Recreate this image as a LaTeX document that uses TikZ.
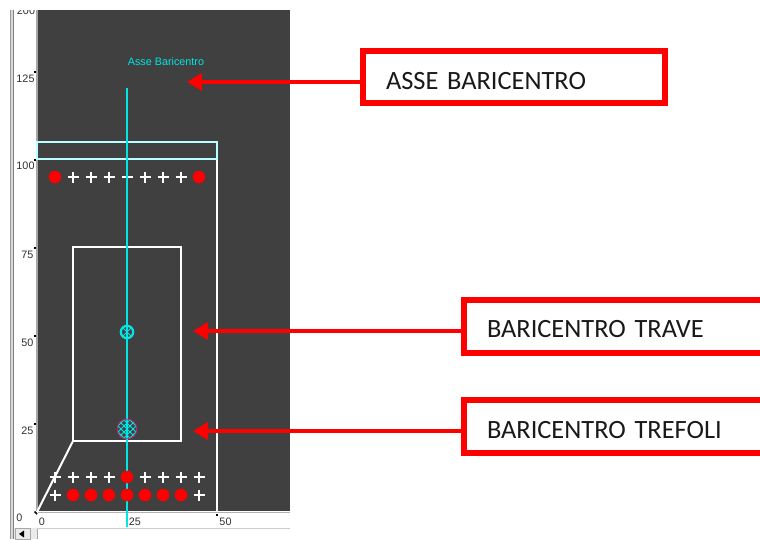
\documentclass[tikz,border=0pt]{standalone}
\usepackage{fontspec}
\setmainfont[WordSpace=0.75]{Carlito}
\newfontfamily\uifont{Liberation Sans}
\usetikzlibrary{arrows.meta,calc}
\definecolor{panel}{HTML}{404040}
\definecolor{axiscyan}{HTML}{00E5E5}
\definecolor{flange}{HTML}{B8FFFF}
\definecolor{axtext}{HTML}{303030}
\tikzset{
  x=1pt,y=-1pt,
  callout/.style={draw=red,line width=6pt,fill=white,inner sep=0pt,anchor=north west,text depth=2pt,align=left,font=\fontsize{26.4}{28}\selectfont,text=black!90},
  pointer/.style={draw=red,line width=4.4pt,-{Triangle[length=15pt,width=17pt,fill=red]}},
  beam/.style={draw=white,line width=2pt},
  bar/.style={circle,fill=red,minimum size=12.5pt,inner sep=0pt},
  duct/.style={white,line width=1.8pt},
  axlabel/.style={font=\uifont\fontsize{10.8}{12}\selectfont,text=axtext,inner sep=0pt},
  tick/.style={fill=black,inner sep=0pt,minimum size=2pt}
}
\newcommand{\ductmark}[2]{\draw[duct] (#1-5.5,#2) -- (#1+5.5,#2) (#1,#2-5.5) -- (#1,#2+5.5);}
\begin{document}
\begin{tikzpicture}
\useasboundingbox (0,0) rectangle (760,539);
\clip (0,0) rectangle (760,539);
\fill[white] (0,0) rectangle (760,539);
% window chrome
\fill[black!15] (9.5,10) rectangle (13.5,539);
\fill[black!40] (9.5,10) rectangle (11,539);
\fill[black!50] (12.8,10) rectangle (13.6,539);
\fill[panel] (37.5,10) rectangle (290,511);
\fill[black!35] (36.3,10) rectangle (37.5,511);
\draw[black!30,line width=1pt] (37.5,512) -- (290,512);
% axis labels
\begin{scope}
\clip (14,10) rectangle (36,30);
\node[axlabel] (l200) at (26,10.5) {200};
\end{scope}
\node[axlabel] (l125) at (25.5,79) {125};
\node[axlabel] (l100) at (25.5,166) {100};
\node[axlabel] (l75) at (27.5,255) {75};
\node[axlabel] (l50) at (27.5,343) {50};
\node[axlabel] (l25) at (27.5,431) {25};
\node[axlabel] (l0) at (19.5,518) {0};
\node[axlabel] (x0) at (42,522) {0};
\node[axlabel] (x25) at (135,522) {25};
\node[axlabel] (x50) at (225.5,522) {50};
\foreach \n/\y in {a/72,b/160,c/248,d/336,e/424}{\node[tick] (t\n) at (35,\y) {};}
\draw[black,line width=1.5pt] (34.5,511.5) -- (37,514);
\node[tick] (tx50) at (217,514.5) {};
% beam section
\draw[beam] (217,159) -- (217,511);
\draw[beam] (37.5,511) -- (73,441);
\draw[beam] (73,247) rectangle (181,441);
\draw[flange,line width=2pt] (37,141.5) rectangle (217,158.5);
% strands
\foreach \x in {73,91,...,181}{\ductmark{\x}{177}}
\foreach \x in {55,73,91,109,145,163,181,199}{\ductmark{\x}{477}}
\foreach \x in {55,199}{\ductmark{\x}{495}}
% axis
\draw[axiscyan,line width=2.4pt] (127,88) -- (127,527);
% strand bars
\foreach \n/\x/\y in {p1/55/177,p2/199/177,p3/127/477,q1/73/495,q2/91/495,q3/109/495,q4/127/495,q5/145/495,q6/163/495,q7/181/495}{\node[bar] (\n) at (\x,\y) {};}
% centroids
\coordinate (gt) at (127,332);
\coordinate (gs) at (127,429);
\begin{scope}
\clip (gs) circle (9.5);
\foreach \d in {-12,-6,0,6,12}{
  \draw[axiscyan,line width=1pt] ($(gs)+(\d-10,-10)$) -- ($(gs)+(\d+10,10)$);
  \draw[axiscyan,line width=1pt] ($(gs)+(\d-10,10)$) -- ($(gs)+(\d+10,-10)$);
}
\end{scope}
\draw[magenta!80!black,line width=.8pt] (gs) circle (9.8);
\draw[axiscyan,line width=2.2pt] (gt) circle (6.2);
\draw[axiscyan,line width=.8pt] ($(gt)+(-4,-4)$) -- ($(gt)+(4,4)$) ($(gt)+(-4,4)$) -- ($(gt)+(4,-4)$);
% label inside panel
\node[font=\uifont\fontsize{10.8}{12}\selectfont,text=axiscyan,inner sep=0pt] (title) at (166,61.5) {Asse Baricentro};
% callouts
\node[callout,minimum width=302pt,minimum height=52pt,text width=302pt,text height=26pt] (asse) at (360,48) {\hspace*{23pt}ASSE BARICENTRO};
\node[callout,minimum width=320pt,minimum height=53pt,text width=320pt,text height=23pt] (trave) at (461,297) {\hspace*{23pt}BARICENTRO TRAVE};
\node[callout,minimum width=320pt,minimum height=53pt,text width=320pt,text height=25pt] (tref) at (461,397) {\hspace*{23pt}BARICENTRO TREFOLI};
\coordinate (tipa) at (187,82);
\coordinate (tipb) at (193,331);
\coordinate (tipc) at (193,431);
\draw[pointer] (asse.west |- tipa) -- (tipa);
\draw[pointer] (trave.west |- tipb) -- (tipb);
\draw[pointer] (tref.west |- tipc) -- (tipc);
% scrollbar
\fill[black!8] (14,528) rectangle (37,539);
\draw[black!35] (15,528) rectangle (30,539);
\fill[black] (19,534) -- (24,530.5) -- (24,537.5) -- cycle;
\draw[black!35] (37,528) -- (37,539);
\draw[black!20] (37,528) -- (290,528);
\end{tikzpicture}
\end{document}
